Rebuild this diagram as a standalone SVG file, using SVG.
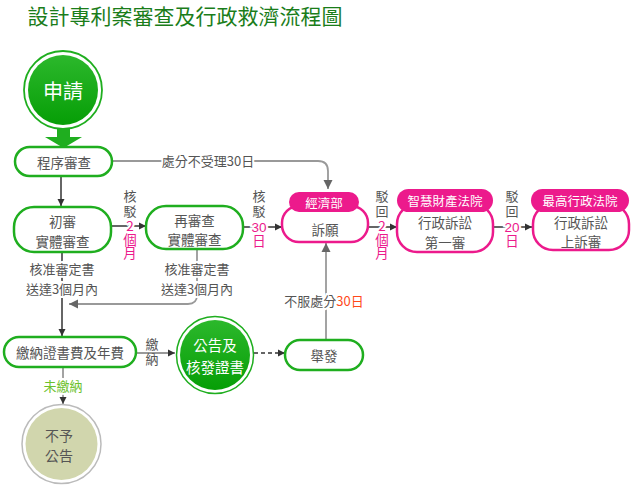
<svg xmlns="http://www.w3.org/2000/svg" width="632" height="500" viewBox="0 0 632 500">
<style>
text{font-family:"Noto Sans CJK TC","Noto Sans CJK SC",sans-serif;text-anchor:middle;dominant-baseline:central}
.box{fill:#fff;stroke:#1fae1f;stroke-width:2.5}
.pbox{fill:#fff;stroke:#ec1a8c;stroke-width:2.5}
.tag{fill:#ec1a8c}
.t{font-size:13.5px;fill:#555}
.tw{font-size:12.5px;fill:#fff}
.lbl{font-size:13px;fill:#555;paint-order:stroke;stroke:#fff;stroke-width:4px}
.v{writing-mode:vertical-rl;text-orientation:upright;text-anchor:start}
.vg{font-size:13px;fill:#555;letter-spacing:2px}
.vp{font-size:13.5px;fill:#ec1a8c;paint-order:stroke;stroke:#fff;stroke-width:4px}
.dg{font-family:"Liberation Sans",Arial,sans-serif;font-size:13.5px;fill:#ec1a8c;paint-order:stroke;stroke:#fff;stroke-width:4px}
.ln{fill:none;stroke:#999;stroke-width:1.8}
.dk{fill:none;stroke:#333;stroke-width:1.5}
</style>
<defs>
<marker id="ad" markerWidth="8" markerHeight="8" refX="7" refY="4" orient="auto" markerUnits="userSpaceOnUse"><path d="M0,0.5 L7,4 L0,7.5 z" fill="#333"/></marker>
<marker id="ag" markerWidth="10" markerHeight="10" refX="9" refY="5" orient="auto" markerUnits="userSpaceOnUse"><path d="M0,0.5 L9,5 L0,9.5 z" fill="#666"/></marker>
<linearGradient id="gg" x1="0" y1="0" x2="0" y2="1"><stop offset="0" stop-color="#2cb82c"/><stop offset="1" stop-color="#069e06"/></linearGradient>
</defs>
<text x="185" y="15" style="font-size:21px;fill:#1a7d1a">設計專利案審查及行政救濟流程圖</text>

<g id="connectors">
<path class="ln" d="M112,161 H318 Q328,161 328,171 V189" marker-end="url(#ag)"/>
<path class="dk" d="M61,176 V206" marker-end="url(#ad)"/>
<path class="dk" d="M111,226 H146" marker-end="url(#ad)"/>
<path class="dk" d="M243,227 H282" marker-end="url(#ad)"/>
<path class="dk" d="M368,227 H397" marker-end="url(#ad)"/>
<path class="dk" d="M493,227 H532" marker-end="url(#ad)"/>
<path class="dk" d="M62,252 V336" marker-end="url(#ad)"/>
<path class="ln" d="M197,249 V295 Q197,304 188,304 H69" marker-end="url(#ag)"/>
<path class="ln" d="M136,353 H175" marker-end="url(#ad)"/>
<path class="dk" d="M254,353 H285" stroke-dasharray="4,3" marker-end="url(#ad)"/>
<path class="ln" d="M326,340 V243" marker-end="url(#ag)"/>
<path class="ln" d="M63,367 V404" marker-end="url(#ad)"/>
<text class="lbl" x="208" y="160">處分不受理30日</text>
<text class="v vg" x="130" y="189.5">核駁</text>
<text class="v vp" x="130" y="219.5">2個月</text>
<text class="v vg" x="259" y="189.5">核駁</text>
<text class="dg" x="259" y="227">30</text>
<text class="v vp" x="259" y="234.5">日</text>
<text class="v vg" x="382" y="189.5">駁回</text>
<text class="v vp" x="382" y="219.5">2個月</text>
<text class="v vg" x="512" y="189.5">駁回</text>
<text class="dg" x="512" y="227">20</text>
<text class="v vp" x="512" y="234.5">日</text>
<text class="lbl" x="62" y="268.8">核准審定書<tspan x="62" dy="19.6">送達3個月內</tspan></text>
<text class="lbl" x="197" y="268.8">核准審定書<tspan x="197" dy="19.6">送達3個月內</tspan></text>
<text class="v vg" x="152" y="338">繳納</text>
<text class="lbl" x="324" y="300">不服處分<tspan fill="#ff4a1a">30日</tspan></text>
<text class="lbl" x="63" y="385" style="fill:#6cc12c">未繳納</text>
</g>

<g id="apply">
<circle cx="63" cy="90" r="39" fill="#fff" stroke="#1fae1f" stroke-width="1.8"/>
<circle cx="63" cy="90" r="35" fill="url(#gg)"/>
<text x="63" y="90" style="font-size:20px;fill:#fff">申請</text>
<path d="M57,128 H70 V137 H82 L63.5,148 L45,137 H57 z" fill="#1fae1f"/>
</g>
<g id="formal">
<rect class="box" x="15" y="147" width="97" height="29" rx="14.5"/>
<text class="t" x="64" y="161.5">程序審查</text>
</g>
<g id="first">
<rect class="box" x="14" y="207" width="97" height="45" rx="20"/>
<text class="t" x="62.5" y="221.2">初審<tspan x="62.5" dy="19.6">實體審查</tspan></text>
</g>
<g id="second">
<rect class="box" x="146" y="206" width="97" height="43" rx="20"/>
<text class="t" x="194.5" y="219.7">再審查<tspan x="194.5" dy="19.6">實體審查</tspan></text>
</g>
<g id="appeal">
<rect class="pbox" x="282" y="206" width="86" height="36" rx="17"/>
<rect class="tag" x="289" y="192" width="70" height="20" rx="10"/>
<text class="tw" x="324" y="202">經濟部</text>
<text class="t" x="325" y="229">訴願</text>
</g>
<g id="court1">
<rect class="pbox" x="397" y="204" width="96" height="48" rx="20"/>
<rect class="tag" x="397" y="189" width="96" height="23" rx="11.5"/>
<text class="tw" x="445" y="200.5">智慧財產法院</text>
<text class="t" x="445" y="222.2">行政訴訟<tspan x="445" dy="19.6">第一審</tspan></text>
</g>
<g id="court2">
<rect class="pbox" x="533" y="204" width="96" height="46" rx="20"/>
<rect class="tag" x="531" y="189" width="98" height="23" rx="11.5"/>
<text class="tw" x="580" y="200.5">最高行政法院</text>
<text class="t" x="581" y="221.7">行政訴訟<tspan x="581" dy="19.6">上訴審</tspan></text>
</g>
<g id="fee">
<rect class="box" x="4" y="337" width="132" height="30" rx="15"/>
<text class="t" x="70" y="352">繳納證書費及年費</text>
</g>
<g id="publish">
<circle cx="215" cy="355" r="38.5" fill="#fff" stroke="#1fae1f" stroke-width="1.5"/>
<circle cx="215" cy="355" r="35" fill="url(#gg)"/>
<text x="215" y="344.4" style="font-size:14.5px;fill:#fff">公告及<tspan x="215" dy="21.2">核發證書</tspan></text>
</g>
<g id="invalid">
<rect class="box" x="285" y="340" width="78" height="30" rx="15"/>
<text class="t" x="324" y="355">舉發</text>
</g>
<g id="nopublish">
<circle cx="61.5" cy="444" r="39.5" fill="#fff" stroke="#bbb" stroke-width="1.5"/>
<circle cx="61.5" cy="444" r="36" fill="#d1d6ad"/>
<text x="59" y="434.8" style="font-size:14px;fill:#555">不予<tspan x="59" dy="20.4">公告</tspan></text>
</g>
</svg>
